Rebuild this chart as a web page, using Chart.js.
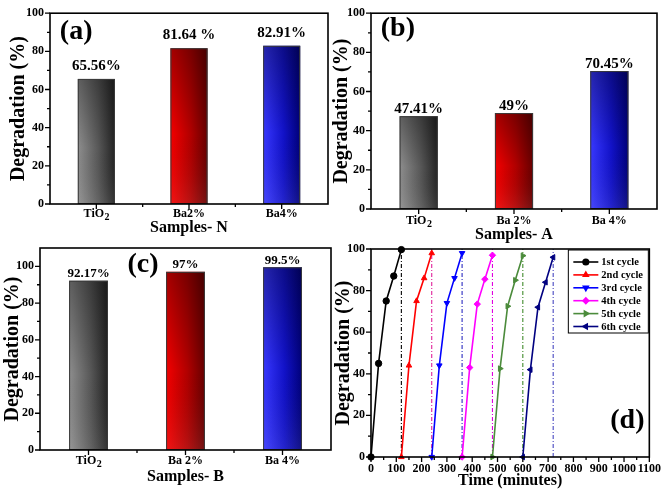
<!DOCTYPE html>
<html><head><meta charset="utf-8">
<script src="https://cdn.jsdelivr.net/npm/chart.js@4.4.1/dist/chart.umd.min.js"></script>
<style>
html,body{margin:0;padding:0;background:#fff;}
#wrap{position:relative;width:666px;height:491px;overflow:hidden;background:#fff;}
canvas{position:absolute;left:0;top:0;}
</style></head><body>
<div id="wrap">
<canvas id="ca" width="666" height="491"></canvas>
<canvas id="cb" width="666" height="491"></canvas>
<canvas id="cc" width="666" height="491"></canvas>
<canvas id="cd" width="666" height="491"></canvas>
</div>
<script>
// ---------- data ----------
const samplesN = ['TiO\u2082', 'Ba2%', 'Ba4%'];
const samplesA = ['TiO\u2082', 'Ba 2%', 'Ba 4%'];
const samplesB = ['TiO\u2082', 'Ba 2%', 'Ba 4%'];
const degradationN = [65.56, 81.64, 82.91];
const degradationA = [47.41, 49, 70.45];
const degradationB = [92.17, 97, 99.5];
const valueLabelsN = ['65.56%', '81.64 %', '82.91%'];
const valueLabelsA = ['47.41%', '49%', '70.45%'];
const valueLabelsB = ['92.17%', '97%', '99.5%'];
const degradationTicks = [0, 20, 40, 60, 80, 100];
const timeTicks = [0, 100, 200, 300, 400, 500, 600, 700, 800, 900, 1000, 1100];

const cycleNames = ['1st cycle', '2nd cycle', '3rd cycle', '4th cycle', '5th cycle', '6th cycle'];
const cycle1Time = [0, 30, 60, 90, 120];
const cycle1Deg  = [0, 45, 75, 87, 99.7];
const cycle2Time = [120, 150, 180, 210, 240];
const cycle2Deg  = [0, 44, 75, 86, 98];
const cycle3Time = [240, 270, 300, 330, 360];
const cycle3Deg  = [0, 44, 74, 86, 98];
const cycle4Time = [360, 390, 420, 450, 480];
const cycle4Deg  = [0, 43, 73.5, 85.5, 97];
const cycle5Time = [480, 510, 540, 570, 600];
const cycle5Deg  = [0, 42.5, 72.5, 85, 96.8];
const cycle6Time = [600, 630, 660, 690, 720];
const cycle6Deg  = [0, 42, 72, 84, 96];
const cycleEnds = [120, 240, 360, 480, 600, 720];

// ---------- styles ----------
const FONT = "'Liberation Serif', 'Times New Roman', 'DejaVu Serif', serif";
Chart.defaults.font.family = FONT;
Chart.defaults.font.weight = 'bold';
Chart.defaults.color = '#000';

const barStops = [
  ['#8e8e8e', '#585858', '#232323'],
  ['#f40000', '#b00000', '#660000'],
  ['#3838ff', '#1212c8', '#00007a']
];
function barGradient(c) {
  const chart = c.chart, i = c.dataIndex;
  const st = barStops[i % barStops.length];
  const xs = chart.scales.x;
  if (c.type !== 'data' || !xs || !chart.chartArea) return st[1];
  const cx = xs.getPixelForValue(i);
  const w = (xs.width / chart.data.labels.length) * 0.4;
  const g = chart.ctx.createLinearGradient(cx - w / 2, 0, cx + w / 2, 0);
  g.addColorStop(0, st[0]); g.addColorStop(0.55, st[1]); g.addColorStop(1, st[2]);
  return g;
}

// vertical shading over bars
const shadePlugin = {
  id: 'shade',
  afterDatasetsDraw(chart) {
    const {ctx} = chart;
    const meta = chart.getDatasetMeta(0);
    ctx.save();
    meta.data.forEach(el => {
      const x0 = el.x - el.width / 2;
      const g = ctx.createLinearGradient(0, el.base, 0, el.y);
      g.addColorStop(0, 'rgba(255,255,255,0.08)');
      g.addColorStop(0.45, 'rgba(0,0,0,0)');
      g.addColorStop(1, 'rgba(0,0,0,0.32)');
      ctx.fillStyle = g;
      ctx.fillRect(x0, el.y, el.width, el.base - el.y);
      ctx.strokeStyle = '#3a3a3a'; ctx.lineWidth = 1;
      ctx.strokeRect(x0 + 0.5, el.y + 0.5, el.width - 1, el.base - el.y - 1);
    });
    ctx.restore();
  }
};

// frame + outward ticks
const framePlugin = {
  id: 'frame',
  afterDraw(chart) {
    const {ctx, chartArea: a, scales: {x, y}} = chart;
    ctx.save();
    ctx.strokeStyle = '#000';
    ctx.lineWidth = 1.6;
    ctx.strokeRect(a.left, a.top, a.right - a.left, a.bottom - a.top);
    ctx.lineWidth = 1.3;
    ctx.beginPath();
    const yv = y.ticks.map(t => t.value);
    yv.forEach(v => { const p = y.getPixelForValue(v); ctx.moveTo(a.left - 5, p); ctx.lineTo(a.left, p); });
    for (let k = 0; k < yv.length - 1; k++) {
      const p = y.getPixelForValue((yv[k] + yv[k + 1]) / 2);
      ctx.moveTo(a.left - 3, p); ctx.lineTo(a.left, p);
    }
    if (x.type === 'category') {
      const n = chart.data.labels.length;
      for (let i = 0; i < n; i++) {
        const p = x.getPixelForValue(i);
        ctx.moveTo(p, a.bottom); ctx.lineTo(p, a.bottom + 5);
        if (i < n - 1) { const m = (p + x.getPixelForValue(i + 1)) / 2; ctx.moveTo(m, a.bottom); ctx.lineTo(m, a.bottom + 3); }
      }
    } else {
      const xv = x.ticks.map(t => t.value);
      xv.forEach(v => { const p = x.getPixelForValue(v); ctx.moveTo(p, a.bottom); ctx.lineTo(p, a.bottom + 5); });
      for (let k = 0; k < xv.length - 1; k++) {
        const p = x.getPixelForValue((xv[k] + xv[k + 1]) / 2);
        ctx.moveTo(p, a.bottom); ctx.lineTo(p, a.bottom + 3);
      }
    }
    ctx.stroke();
    ctx.restore();
  }
};

// chemical-formula tick labels with a real lowered subscript
const SUB = '\u2082';
const subLabelPlugin = {
  id: 'subLabels',
  afterDraw(chart, args, o) {
    const x = chart.scales.x;
    if (!x || x.type !== 'category') return;
    const {ctx, chartArea: a} = chart;
    ctx.save();
    ctx.fillStyle = '#000';
    ctx.textBaseline = 'middle';
    chart.data.labels.forEach((lab, i) => {
      if (lab.indexOf(SUB) < 0) return;
      const main = lab.replace(SUB, '');
      ctx.font = 'bold 12px ' + FONT;
      const w1 = ctx.measureText(main).width;
      ctx.font = 'bold 10px ' + FONT;
      const w2 = ctx.measureText('2').width;
      const cx = x.getPixelForValue(i);
      const cy = a.bottom + o.pad + 7.2;
      const left = cx - (w1 + w2) / 2;
      ctx.textAlign = 'left';
      ctx.font = 'bold 12px ' + FONT;
      ctx.fillText(main, left, cy);
      ctx.font = 'bold 10px ' + FONT;
      ctx.fillText('2', left + w1 + 0.5, cy + 3.5);
    });
    ctx.restore();
  }
};

// value labels above bars
const barLabelPlugin = {
  id: 'barLabels',
  afterDatasetsDraw(chart, args, o) {
    if (!o || !o.texts) return;
    const {ctx} = chart;
    const meta = chart.getDatasetMeta(0);
    ctx.save();
    ctx.font = 'bold ' + o.size + 'px ' + FONT;
    ctx.fillStyle = '#000';
    ctx.textAlign = 'center';
    ctx.textBaseline = 'middle';
    meta.data.forEach((el, i) => { ctx.fillText(o.texts[i], el.x, el.y - o.gap); });
    ctx.restore();
  }
};

// panel tag (a), (b)...
const tagPlugin = {
  id: 'tag',
  afterDraw(chart, args, o) {
    if (!o || !o.text) return;
    const {ctx, chartArea: a} = chart;
    ctx.save();
    ctx.font = 'bold ' + o.size + 'px ' + FONT;
    ctx.fillStyle = '#000';
    ctx.textAlign = 'center';
    ctx.textBaseline = 'middle';
    ctx.fillText(o.text, a.left + o.fx * (a.right - a.left), a.top + o.fy * (a.bottom - a.top));
    ctx.restore();
  }
};

function barChart(id, cats, vals, texts, o) {
  return new Chart(document.getElementById(id), {
    type: 'bar',
    data: {labels: cats, datasets: [{data: vals, backgroundColor: barGradient, borderColor: '#3a3a3a', borderWidth: 0,
      categoryPercentage: 1, barPercentage: 0.4}]},
    options: {
      responsive: false, animation: false, devicePixelRatio: 1,
      layout: {padding: o.pad},
      plugins: {legend: {display: false}, tooltip: {enabled: false},
        barLabels: {texts: texts, size: o.labelSize, gap: o.gap},
        subLabels: {pad: o.xTickPad},
        tag: {text: o.tag, size: 28, fx: o.tagX, fy: o.tagY}},
      scales: {
        x: {grid: {display: false, drawTicks: false}, border: {display: false},
          ticks: {font: {size: 12, weight: 'bold'}, padding: o.xTickPad, maxRotation: 0,
            color: c => (c.tick && String(c.tick.label).indexOf(SUB) >= 0) ? 'rgba(0,0,0,0)' : '#000'},
          title: {display: true, text: o.xTitle, color: '#000', font: {size: 16, weight: 'bold'}, padding: 0},
          afterFit: s => { s.height = o.xH; }},
        y: {min: 0, max: o.ymax, grid: {display: false, drawTicks: false}, border: {display: false},
          ticks: {color: '#000', font: {size: 12, weight: 'bold'}, padding: 6},
          afterBuildTicks: s => { s.ticks = degradationTicks.map(v => ({value: v})); },
          title: {display: true, text: 'Degradation (%)', color: '#000', font: {size: 20, weight: 'bold'}, padding: 0},
          afterFit: s => { s.width = o.yW; }}
      }
    },
    plugins: [framePlugin, shadePlugin, barLabelPlugin, subLabelPlugin, tagPlugin]
  });
}

barChart('ca', samplesN, degradationN, valueLabelsN, {
  pad: {left: 6.5, top: 7, right: 338, bottom: 253.4}, yW: 43.5, xH: 33.6, xTickPad: 3, ymax: 100,
  xTitle: 'Samples- N', labelSize: 15, gap: 13, tag: '(a)', tagX: 0.094, tagY: 0.096});
barChart('cb', samplesA, degradationA, valueLabelsA, {
  pad: {left: 330, top: 8, right: 9, bottom: 246.4}, yW: 41, xH: 35.6, xTickPad: 5, ymax: 100,
  xTitle: 'Samples- A', labelSize: 15, gap: 7, tag: '(b)', tagX: 0.094, tagY: 0.08});
barChart('cc', samplesB, degradationB, valueLabelsB, {
  pad: {left: 1, top: 248, right: 335, bottom: 4.4}, yW: 39, xH: 36.6, xTickPad: 4, ymax: 110,
  xTitle: 'Samples- B', labelSize: 13, gap: 7, tag: '(c)', tagX: 0.354, tagY: 0.084});

// ---------- panel (d) ----------
const cycleColors = ['#000000', '#ff0000', '#0000ff', '#ff00ff', '#4b8b3b', '#000080'];
const endLineColors = ['#000000', '#e0209a', '#2a2ac0', '#e000e0', '#3f8a2a', '#4545c0'];
const cycleStyles = [
  {pointStyle: 'circle', rotation: 0},
  {pointStyle: 'triangle', rotation: 0},
  {pointStyle: 'triangle', rotation: 180},
  {pointStyle: 'rectRot', rotation: 0},
  {pointStyle: 'triangle', rotation: 90},
  {pointStyle: 'triangle', rotation: -90}
];
const cycleTimes = [cycle1Time, cycle2Time, cycle3Time, cycle4Time, cycle5Time, cycle6Time];
const cycleDegs = [cycle1Deg, cycle2Deg, cycle3Deg, cycle4Deg, cycle5Deg, cycle6Deg];

const dDatasets = [];
cycleNames.forEach((name, k) => {
  dDatasets.push({
    label: name,
    data: cycleTimes[k].map((t, j) => ({x: t, y: cycleDegs[k][j]})),
    borderColor: cycleColors[k], backgroundColor: cycleColors[k],
    borderWidth: 1.6, pointRadius: 3.2, pointStyle: cycleStyles[k].pointStyle,
    rotation: cycleStyles[k].rotation, pointBorderWidth: 1, tension: 0, clip: false, order: 1
  });
});
cycleEnds.forEach((e, k) => {
  dDatasets.push({
    label: '',
    isEnd: true,
    data: [{x: e, y: 0}, {x: e, y: 100}],
    borderColor: endLineColors[k], borderWidth: 1.1, borderDash: [4, 2, 1, 2],
    pointRadius: 0, tension: 0, order: 2
  });
});

const legendPlugin = {
  id: 'cycLegend',
  afterDraw(chart) {
    const {ctx, chartArea: a} = chart;
    const w = 80, h = 83;
    const bx = a.right - w - 1, by = a.top + 1;
    ctx.save();
    ctx.fillStyle = '#fff';
    ctx.fillRect(bx, by, w, h);
    ctx.strokeStyle = '#000'; ctx.lineWidth = 1;
    ctx.strokeRect(bx, by, w, h);
    ctx.font = 'bold 10.5px ' + FONT;
    ctx.textBaseline = 'middle';
    ctx.textAlign = 'left';
    let row = 0;
    chart.data.datasets.forEach(ds => {
      if (ds.isEnd) return;
      const yy = by + 12 + row * 12.9;
      ctx.strokeStyle = ds.borderColor; ctx.lineWidth = 1.6; ctx.setLineDash([]);
      ctx.beginPath(); ctx.moveTo(bx + 5, yy); ctx.lineTo(bx + 30, yy); ctx.stroke();
      ctx.fillStyle = ds.backgroundColor;
      Chart.helpers.drawPoint(ctx, {pointStyle: ds.pointStyle, rotation: ds.rotation, radius: 2.8, borderWidth: 1}, bx + 17.5, yy);
      ctx.fillStyle = '#000';
      ctx.fillText(ds.label, bx + 33, yy + 0.5);
      row++;
    });
    ctx.restore();
  }
};

new Chart(document.getElementById('cd'), {
  type: 'line',
  data: {datasets: dDatasets},
  options: {
    responsive: false, animation: false, devicePixelRatio: 1,
    layout: {padding: {left: 332, top: 249, right: 16, bottom: 0.4}},
    plugins: {legend: {display: false}, tooltip: {enabled: false},
      tag: {text: '(d)', size: 28, fx: 0.921, fy: 0.827}},
    scales: {
      x: {type: 'linear', min: 0, max: 1100, grid: {display: false, drawTicks: false}, border: {display: false},
        ticks: {color: '#000', font: {size: 12, weight: 'bold'}, padding: 5, autoSkip: false, maxRotation: 0,
          callback: v => String(v)},
        afterBuildTicks: s => { s.ticks = timeTicks.map(v => ({value: v})); },
        title: {display: true, text: 'Time (minutes)', color: '#000', font: {size: 16, weight: 'bold'}, padding: 0},
        afterFit: s => { s.height = 33.6; }},
      y: {min: 0, max: 100, grid: {display: false, drawTicks: false}, border: {display: false},
        ticks: {color: '#000', font: {size: 12, weight: 'bold'}, padding: 6},
        afterBuildTicks: s => { s.ticks = degradationTicks.map(v => ({value: v})); },
        title: {display: true, text: 'Degradation (%)', color: '#000', font: {size: 20, weight: 'bold'}, padding: 0},
        afterFit: s => { s.width = 39; }}
    }
  },
  plugins: [framePlugin, tagPlugin, legendPlugin]
});
</script>
</body></html>
